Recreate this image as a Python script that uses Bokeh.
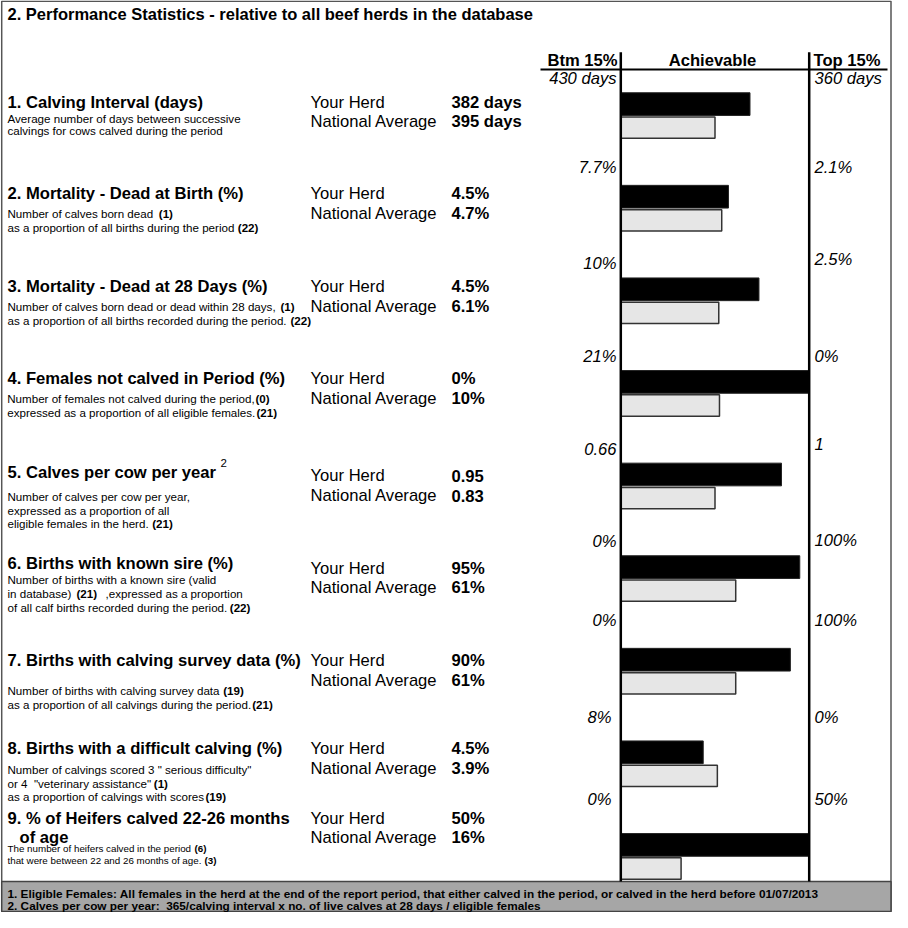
from bokeh.plotting import figure
from bokeh.models import Range1d, ColumnDataSource
from bokeh.embed import file_html
from bokeh.resources import INLINE
from bokeh.core.properties import value

# ---------------- data ----------------
report_title = "2. Performance Statistics - relative to all beef herds in the database"
metrics = [
    "1. Calving Interval (days)",
    "2. Mortality - Dead at Birth (%)",
    "3. Mortality - Dead at 28 Days (%)",
    "4. Females not calved in Period (%)",
    "5. Calves per cow per year",
    "6. Births with known sire (%)",
    "7. Births with calving survey data (%)",
    "8. Births with a difficult calving (%)",
    "9. % of Heifers calved 22-26 months",
]
herd_values = [382, 4.5, 4.5, 0, 0.95, 95, 90, 4.5, 50]
national_values = [395, 4.7, 6.1, 10, 0.83, 61, 61, 3.9, 16]
btm15_values = [430, 7.7, 10, 21, 0.66, 0, 0, 8, 0]
top15_values = [360, 2.1, 2.5, 0, 1, 100, 100, 0, 50]
herd_labels = ["382 days", "4.5%", "4.5%", "0%", "0.95", "95%", "90%", "4.5%", "50%"]
national_labels = ["395 days", "4.7%", "6.1%", "10%", "0.83", "61%", "61%", "3.9%", "16%"]
btm15_labels = ["430 days", "7.7%", "10%", "21%", "0.66", "0%", "0%", "8%", "0%"]
top15_labels = ["360 days", "2.1%", "2.5%", "0%", "1", "100%", "100%", "0%", "50%"]
scale_headers = ["Btm 15%", "Achievable", "Top 15%"]
row_labels = ["Your Herd", "National Average"]
desc_lines = [
    [["Average number of days between successive"], ["calvings for cows calved during the period"]],
    [["Number of calves born dead", "(1)"], ["as a proportion of all births during the period", "(22)"]],
    [["Number of calves born dead or dead within 28 days,", "(1)"],
     ["as a proportion of all births recorded during the period.", "(22)"]],
    [["Number of females not calved during the period,", "(0)"],
     ["expressed as a proportion of all eligible females.", "(21)"]],
    [["Number of calves per cow per year,"], ["expressed as a proportion of all"],
     ["eligible females in the herd.", "(21)"]],
    [["Number of births with a known sire (valid"], ["in database)", "(21)", ",expressed as a proportion"],
     ["of all calf births recorded during the period.", "(22)"]],
    [["Number of births with calving survey data", "(19)"],
     ["as a proportion of all calvings during the period.", "(21)"]],
    [['Number of calvings scored 3 " serious difficulty"'], ['or 4 \u00a0"veterinary assistance"', "(1)"],
     ["as a proportion of calvings with scores", "(19)"]],
    [["The number of heifers calved in the period", "(6)"],
     ["that were between 22 and 26 months of age.", "(3)"]],
]
footnotes = [
    "1. Eligible Females: All females in the herd at the end of the report period, that either calved in the period, or calved in the herd before 01/07/2013",
    "2. Calves per cow per year: \u00a0365/calving interval x no. of live calves at 28 days / eligible females",
]

# ---------------- layout (pixel space, 1:1 with the reference) ----------------
W, H = 892, 912
FONT = "Liberation Sans"

title_y = [101.7, 193.3, 285.7, 378.3, 471.7, 563.3, 660, 748.3, 817.7]
herd_y = [101.7, 193.3, 285.7, 378.3, 475, 568.3, 660, 748.3, 817.7]
nat_y = [120.5, 212.7, 305.7, 398.3, 495, 587.3, 680, 768.3, 836.7]
btm_lab_y = [77.7, 166.7, 263.3, 356, 448.3, 541, 620, 716.7, 799.3]
btm_lab_x = [616, 616, 616, 616, 616, 616, 616, 611, 611]
top_lab_y = [77.7, 166.7, 259, 355.7, 443.3, 540, 620, 716.7, 799.3]
desc_y = [[117.5, 130], [212.7, 227.3], [305.7, 320], [398.3, 412.3], [496, 510, 523.3],
          [579, 593.3, 606.7], [690, 704], [769.3, 782.7, 796], [847.5, 859.5]]
desc_x = [[[7], [7]], [[7, 158.3], [7, 237.3]], [[7, 280], [7, 290]], [[6.7, 255], [6.7, 256]],
          [[7], [7], [7, 151.7]], [[7], [7, 76, 105], [7, 229.3]], [[7, 222.7], [7, 251.7]],
          [[7], [7, 153.3], [7, 205]], [[7, 194], [7, 204]]]
desc_size = [11.6] * 8 + [9.8]

SCALE_L, SCALE_R = 620.3, 808.7          # pixel positions of Btm 15% and Top 15%
SEC0, SEC_DY = 103.6, 92.6               # first black bar centre, section pitch
FOOT_TOP = 881

p = figure(width=W, height=H, x_range=Range1d(0, W), y_range=Range1d(H, 0),
           output_backend="svg", toolbar_location=None,
           x_axis_location=None, y_axis_location=None,
           min_border=0, min_border_left=0, min_border_right=0,
           min_border_top=0, min_border_bottom=0)
p.grid.visible = False
p.outline_line_color = None
p.background_fill_color = "white"
p.border_fill_color = "white"

span = SCALE_R - SCALE_L
p.extra_x_ranges = {"frac": Range1d(start=(0 - SCALE_L) / span, end=(W - SCALE_L) / span)}
p.extra_y_ranges = {"sec": Range1d(start=(H - SEC0) / SEC_DY, end=(0 - SEC0) / SEC_DY)}

# frame and footer box
p.quad(left=[1.2], right=[890.5], top=[0.8], bottom=[911], fill_color=None,
       line_color="#555555", line_width=1.5)
p.quad(left=[1.2], right=[890.5], top=[FOOT_TOP], bottom=[911], fill_color="#a6a6a6",
       line_color="#444444", line_width=1.5)

# bars
def frac(v, b, t):
    f = (v - b) / (t - b)
    return max(0.0, min(1.0, f))

idx = list(range(len(metrics)))
herd_frac = [frac(v, b, t) for v, b, t in zip(herd_values, btm15_values, top15_values)]
nat_frac = [frac(v, b, t) for v, b, t in zip(national_values, btm15_values, top15_values)]
bar_src = ColumnDataSource(dict(y=idx, yn=[i + 23.6 / SEC_DY for i in idx],
                                herd=herd_frac, nat=nat_frac))
p.hbar(y="y", left=0, right="herd", height=22.7 / SEC_DY, source=bar_src,
       fill_color="black", line_color="#222222", line_width=1,
       x_range_name="frac", y_range_name="sec")
p.hbar(y="yn", left=0, right="nat", height=21.3 / SEC_DY, source=bar_src,
       fill_color="#e6e6e6", line_color="#333333", line_width=1.5,
       x_range_name="frac", y_range_name="sec")

# scale lines
p.segment(x0=[0, 1], x1=[0, 1], y0=[51.7, 51.7], y1=[FOOT_TOP, FOOT_TOP], line_color="black",
          line_width=2.5, x_range_name="frac")
p.segment(x0=[540], x1=[887], y0=[69], y1=[69], line_color="black", line_width=2.2)

# text helper
groups = {}
def add_text(x, y, t, size, style="normal", align="left"):
    key = (size, style, align)
    g = groups.setdefault(key, dict(x=[], y=[], text=[]))
    g["x"].append(x)
    g["y"].append(y)
    g["text"].append(t)

MAIN = 16.6

add_text(7, 13.3, report_title, 16.5, "bold")
for i, m in enumerate(metrics):
    add_text(7, title_y[i], m, MAIN, "bold")
    add_text(310, herd_y[i], row_labels[0], MAIN)
    add_text(310, nat_y[i], row_labels[1], MAIN)
    add_text(451, herd_y[i], herd_labels[i], MAIN, "bold")
    add_text(451, nat_y[i], national_labels[i], MAIN, "bold")
    add_text(btm_lab_x[i], btm_lab_y[i], btm15_labels[i], MAIN, "italic", "right")
    add_text(814, top_lab_y[i], top15_labels[i], MAIN, "italic")
    for li, segs in enumerate(desc_lines[i]):
        for si, seg in enumerate(segs):
            add_text(desc_x[i][li][si], desc_y[i][li], seg, desc_size[i],
                     "bold" if si % 2 else "normal")

add_text(220, 462.7, "2", 11.5, "normal")
add_text(19, 836.7, "of age", MAIN, "bold")
add_text(617, 60, scale_headers[0], MAIN, "bold", "right")
add_text(712, 60, scale_headers[1], MAIN, "bold", "center")
add_text(813, 60, scale_headers[2], MAIN, "bold")
add_text(7, 893, footnotes[0], 11.8, "bold")
add_text(7, 905, footnotes[1], 11.8, "bold")

for (size, style, align), g in groups.items():
    p.text(x="x", y="y", text="text", source=ColumnDataSource(g),
           text_font=value(FONT), text_font_size=f"{size:.2f}px",
           text_font_style=style, text_align=align, text_baseline="middle",
           text_color="black")

open("out.html", "w").write(file_html(p, INLINE))
